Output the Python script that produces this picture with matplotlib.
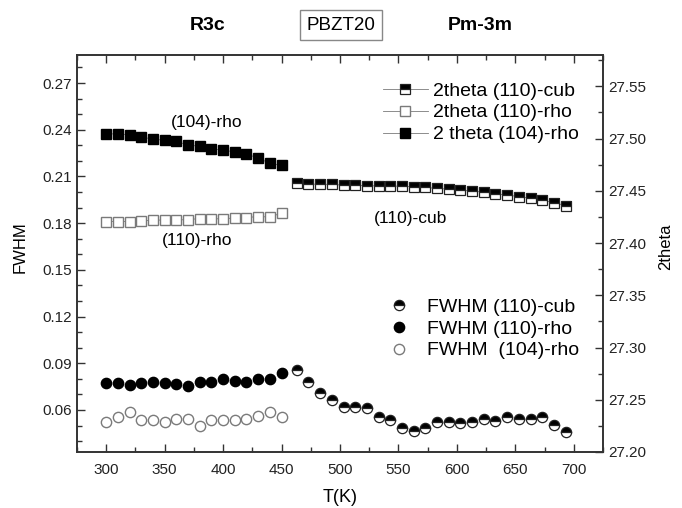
import matplotlib
matplotlib.use("Agg")
import matplotlib.pyplot as plt
from matplotlib.ticker import MultipleLocator

plt.rcParams['font.family'] = ['Liberation Sans', 'DejaVu Sans']

# ------------------------
# DADOS
# ------------------------
T_rho = [300, 310, 320, 330, 340, 350, 360, 370, 380, 390, 400, 410, 420, 430, 440, 450]
T_cub = [463, 473, 483, 493, 503, 513, 523, 533, 543, 553, 563, 573,
         583, 593, 603, 613, 623, 633, 643, 653, 663, 673, 683, 693]

# FWHM (eixo esquerdo)
fwhm_110_rho = [0.0771, 0.0771, 0.0761, 0.0771, 0.0782, 0.0775, 0.0765, 0.0754,
                0.0782, 0.0782, 0.0797, 0.0788, 0.0778, 0.0797, 0.0797, 0.0840]
fwhm_104_rho = [0.0525, 0.0557, 0.0589, 0.0536, 0.0536, 0.0525, 0.0542, 0.0542,
                0.0497, 0.0536, 0.0536, 0.0536, 0.0542, 0.0561, 0.0589, 0.0557]
fwhm_110_cub = [0.0857, 0.0782, 0.0707, 0.0664, 0.0621, 0.0621, 0.0611, 0.0557,
                0.0536, 0.0482, 0.0467, 0.0482, 0.0521, 0.0521, 0.0515, 0.0521,
                0.0540, 0.0531, 0.0557, 0.0540, 0.0540, 0.0553, 0.0504, 0.0461]

# 2theta (eixo direito)
tt_104_rho = [27.5048, 27.5042, 27.5039, 27.5016, 27.4994, 27.4984, 27.4975, 27.4937,
              27.4927, 27.4905, 27.4889, 27.4873, 27.4851, 27.4815, 27.4762, 27.4745]
tt_110_rho = [27.4206, 27.4206, 27.4206, 27.4211, 27.4220, 27.4220, 27.4220, 27.4225,
              27.4234, 27.4230, 27.4234, 27.4239, 27.4244, 27.4254, 27.4249, 27.4287]
tt_110_cub = [27.4571, 27.4564, 27.4564, 27.4561, 27.4554, 27.4554, 27.4548, 27.4548,
              27.4545, 27.4545, 27.4538, 27.4532, 27.4523, 27.4516, 27.4507, 27.4497,
              27.4488, 27.4473, 27.4459, 27.4445, 27.4430, 27.4411, 27.4387, 27.4359]

# ------------------------
# FIGURA
# ------------------------
W, H = 682, 508
fig = plt.figure(figsize=(W / 100, H / 100), dpi=100)
ax = fig.add_axes([77 / W, 1 - 452 / H, (603 - 77) / W, (452 - 55) / H])
ax2 = ax.twinx()

GRAY = '#7a7a7a'
SPINE = '#333333'

# circulos (FWHM)
c_cub, = ax.plot(T_cub, fwhm_110_cub, 'o', ms=7.4, fillstyle='top', color='black',
                 markerfacecoloralt='white', mec='#222222', mew=0.9, linestyle='none')
c_110, = ax.plot(T_rho, fwhm_110_rho, 'o', ms=7.4, color='black', mec='black', linestyle='none')
c_104, = ax.plot(T_rho, fwhm_104_rho, 'o', ms=7.4, mfc='white', mec=GRAY, mew=1.0, linestyle='none')

# quadrados (2theta)
s_cub, = ax2.plot(T_cub, tt_110_cub, 's-', ms=6.5, fillstyle='top', color=GRAY, lw=0.6,
                  mfc='black', markerfacecoloralt='white', mec='#222222', mew=0.9)
s_110, = ax2.plot(T_rho, tt_110_rho, 's-', ms=6.5, color=GRAY, lw=0.6,
                  mfc='white', mec=GRAY, mew=1.0)
s_104, = ax2.plot(T_rho, tt_104_rho, 's-', ms=6.5, color=GRAY, lw=0.6,
                  mfc='black', mec='black')

ax.set_xlim(275, 725)
ax.set_ylim(0.033, 0.288)
ax2.set_ylim(27.20, 27.58)

ax.xaxis.set_major_locator(MultipleLocator(50))
ax.xaxis.set_minor_locator(MultipleLocator(25))
ax.yaxis.set_major_locator(MultipleLocator(0.03))
ax.yaxis.set_minor_locator(MultipleLocator(0.01))
ax2.yaxis.set_major_locator(MultipleLocator(0.05))
ax2.yaxis.set_minor_locator(MultipleLocator(0.025))
ax.yaxis.set_major_formatter(plt.FormatStrFormatter('%.2f'))
ax2.yaxis.set_major_formatter(plt.FormatStrFormatter('%.2f'))

ax.tick_params(which='both', direction='in', top=True, right=False, color=SPINE,
               labelsize=11, labelcolor='#222222', width=1.0)
ax.tick_params(which='major', length=6)
ax.tick_params(which='minor', length=3.5)
ax.tick_params(axis='x', pad=8)
ax2.tick_params(which='both', direction='in', color=SPINE, labelsize=11,
                labelcolor='#222222', width=1.0)
ax2.tick_params(which='major', length=6)
ax2.tick_params(which='minor', length=3.5)
for a in (ax, ax2):
    for s in a.spines.values():
        s.set_color(SPINE)
        s.set_linewidth(1.2)

# titulos dos eixos
fig.text(20 / W, 1 - 247 / H, 'FWHM', rotation=90, ha='center', va='center', fontsize=12)
fig.text(666 / W, 1 - 247 / H, '2theta', rotation=90, ha='center', va='center', fontsize=12)
fig.text(340 / W, 1 - 497 / H, 'T(K)', ha='center', va='center', fontsize=13)

# textos do topo
fig.text(208 / W, 1 - 25 / H, 'R3c', ha='center', va='center', fontsize=14, fontweight='bold')
fig.text(480 / W, 1 - 25 / H, 'Pm-3m', ha='center', va='center', fontsize=14, fontweight='bold')
fig.text(341 / W, 1 - 25 / H, 'PBZT20', ha='center', va='center', fontsize=13.5,
         bbox=dict(boxstyle='square,pad=0.35', fc='white', ec='#888888', lw=1))

# anotacoes
fig.text(207 / W, 1 - 123 / H, '(104)-rho', ha='center', va='center', fontsize=12.5)
fig.text(197 / W, 1 - 241 / H, '(110)-rho', ha='center', va='center', fontsize=12.5)
fig.text(411 / W, 1 - 218 / H, '(110)-cub', ha='center', va='center', fontsize=12.5)

# legendas
leg_kw = dict(frameon=False, fontsize=14, handlelength=2.3, handletextpad=0.25,
              labelspacing=0.22, borderpad=0, borderaxespad=0, loc='upper left',
              bbox_transform=fig.transFigure)
leg1 = ax2.legend([s_cub, s_110, s_104],
                  ['2theta (110)-cub', '2theta (110)-rho', '2 theta (104)-rho'],
                  bbox_to_anchor=(383 / W, 1 - 82 / H), **leg_kw)
leg2 = ax2.legend([c_cub, c_110, c_104],
                  ['FWHM (110)-cub', 'FWHM (110)-rho', 'FWHM  (104)-rho'],
                  bbox_to_anchor=(377 / W, 1 - 298 / H), **leg_kw)
ax2.add_artist(leg1)

fig.savefig('out.png', dpi=100)
